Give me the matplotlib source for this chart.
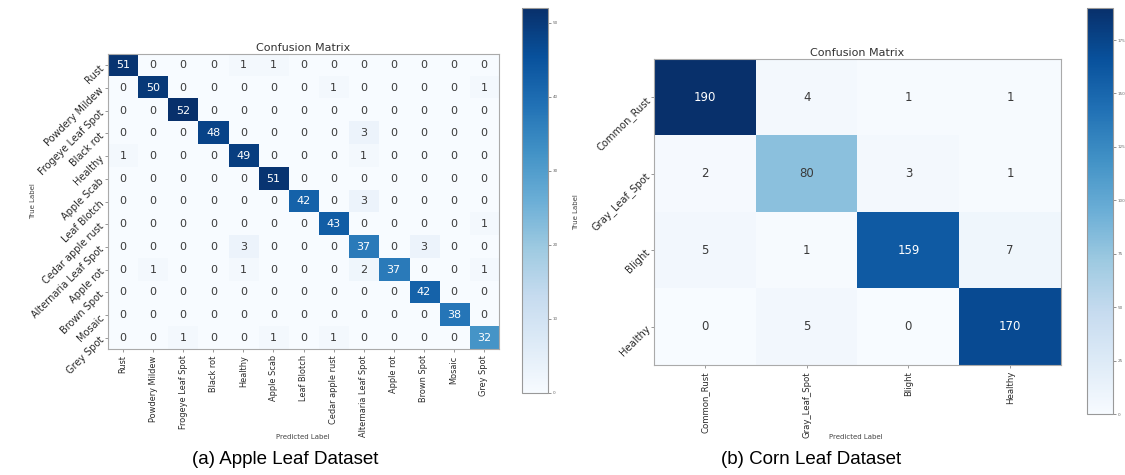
import numpy as np
import matplotlib
matplotlib.use("Agg")
import matplotlib.pyplot as plt

W, H = 1125, 475

apple_labels = ["Rust", "Powdery Mildew", "Frogeye Leaf Spot", "Black rot", "Healthy",
                "Apple Scab", "Leaf Blotch", "Cedar apple rust", "Alternaria Leaf Spot",
                "Apple rot", "Brown Spot", "Mosaic", "Grey Spot"]
apple_cm = [
    [51, 0, 0, 0, 1, 1, 0, 0, 0, 0, 0, 0, 0],
    [0, 50, 0, 0, 0, 0, 0, 1, 0, 0, 0, 0, 1],
    [0, 0, 52, 0, 0, 0, 0, 0, 0, 0, 0, 0, 0],
    [0, 0, 0, 48, 0, 0, 0, 0, 3, 0, 0, 0, 0],
    [1, 0, 0, 0, 49, 0, 0, 0, 1, 0, 0, 0, 0],
    [0, 0, 0, 0, 0, 51, 0, 0, 0, 0, 0, 0, 0],
    [0, 0, 0, 0, 0, 0, 42, 0, 3, 0, 0, 0, 0],
    [0, 0, 0, 0, 0, 0, 0, 43, 0, 0, 0, 0, 1],
    [0, 0, 0, 0, 3, 0, 0, 0, 37, 0, 3, 0, 0],
    [0, 1, 0, 0, 1, 0, 0, 0, 2, 37, 0, 0, 1],
    [0, 0, 0, 0, 0, 0, 0, 0, 0, 0, 42, 0, 0],
    [0, 0, 0, 0, 0, 0, 0, 0, 0, 0, 0, 38, 0],
    [0, 0, 1, 0, 0, 1, 0, 1, 0, 0, 0, 0, 32],
]

corn_labels = ["Common_Rust", "Gray_Leaf_Spot", "Blight", "Healthy"]
corn_cm = [
    [190, 4, 1, 1],
    [2, 80, 3, 1],
    [5, 1, 159, 7],
    [0, 5, 0, 170],
]

apple_cbar_ticks = [0, 10, 20, 30, 40, 50]
corn_cbar_ticks = [0, 25, 50, 75, 100, 125, 150, 175]

caption_a = "(a) Apple Leaf Dataset"
caption_b = "(b) Corn Leaf Dataset"


def box(x0, y0, x1, y1):
    """Pixel box (top-left origin) -> figure fraction rect."""
    return [x0 / W, 1 - y1 / H, (x1 - x0) / W, (y1 - y0) / H]


def ftext(x, y, s, **kw):
    fig.text(x / W, 1 - y / H, s, **kw)


def draw_cm(ax, cax, cm, labels, ticks, num_size, xtick_size, ytick_size):
    cm = np.asarray(cm)
    im = ax.imshow(cm, cmap="Blues", aspect="auto", interpolation="nearest")
    thresh = cm.max() / 2.0
    for i in range(cm.shape[0]):
        for j in range(cm.shape[1]):
            ax.text(j, i, str(cm[i, j]), ha="center", va="center",
                    fontsize=num_size,
                    color="white" if cm[i, j] > thresh else "#3a3a3a")
    n = len(labels)
    ax.set_xticks(range(n))
    ax.set_yticks(range(n))
    ax.set_xticklabels(labels, rotation=90, fontsize=xtick_size, color="#2a2a2a",
                       fontstretch="condensed")
    ax.set_yticklabels(labels, rotation=45, ha="right", rotation_mode="anchor",
                       fontsize=ytick_size, color="#2a2a2a")
    ax.tick_params(length=2.5, width=0.6, color="#888888", pad=2)
    for sp in ax.spines.values():
        sp.set_color("#aaaaaa")
        sp.set_linewidth(0.8)
    ax.set_title("Confusion Matrix", fontsize=8, color="#333333", pad=2)
    cb = fig.colorbar(im, cax=cax, ticks=ticks)
    cb.ax.tick_params(labelsize=3, length=2, width=0.5, colors="#666666", pad=1.5)
    cb.outline.set_edgecolor("#999999")
    cb.outline.set_linewidth(0.8)


fig = plt.figure(figsize=(W / 100, H / 100), dpi=100)

ax1 = fig.add_axes(box(108, 54, 499, 349))
cax1 = fig.add_axes(box(522, 8, 548, 393))
draw_cm(ax1, cax1, apple_cm, apple_labels, apple_cbar_ticks, 8, 6.6, 7)

ax2 = fig.add_axes(box(654, 59, 1061, 365))
cax2 = fig.add_axes(box(1087, 8, 1113, 414))
draw_cm(ax2, cax2, corn_cm, corn_labels, corn_cbar_ticks, 8.5, 6.8, 7.2)

ftext(303, 437, "Predicted Label", fontsize=5, color="#444444", ha="center", va="center")
ftext(856, 437, "Predicted Label", fontsize=5, color="#444444", ha="center", va="center")
ftext(33, 201, "True Label", fontsize=5, color="#444444", ha="center", va="center", rotation=90)
ftext(576, 212, "True Label", fontsize=5, color="#444444", ha="center", va="center", rotation=90)

ftext(285, 460, caption_a, fontsize=13.5, family="Liberation Sans", ha="center", va="center")
ftext(811, 460, caption_b, fontsize=13.5, family="Liberation Sans", ha="center", va="center")

fig.savefig("out.png", dpi=100)
